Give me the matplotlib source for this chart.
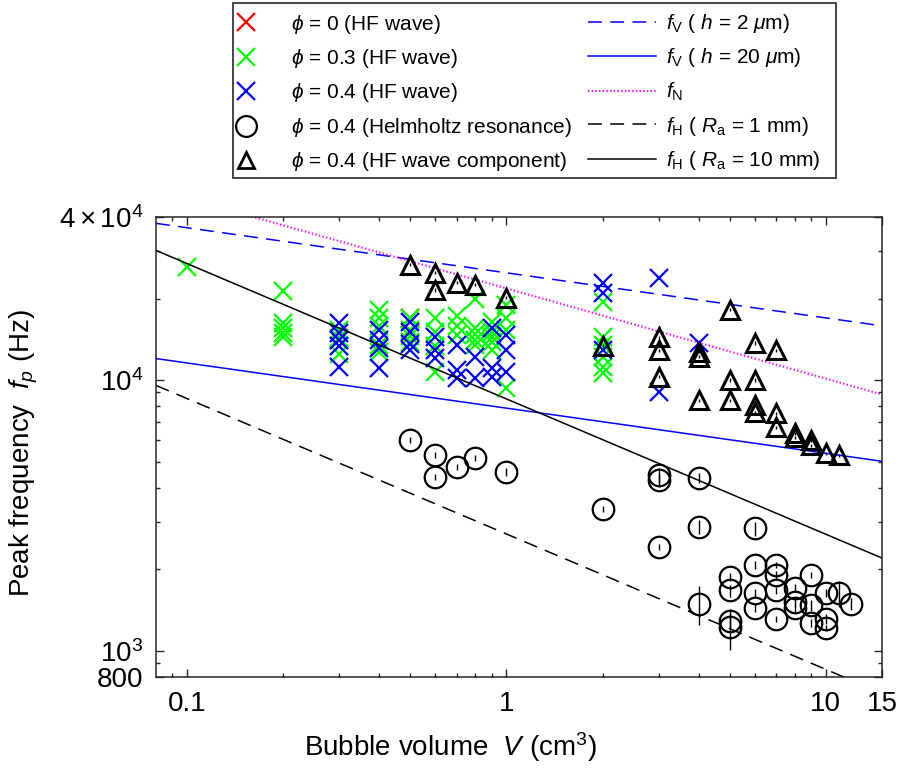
import numpy as np
import matplotlib
matplotlib.use('Agg')
import matplotlib.pyplot as plt
from matplotlib.lines import Line2D
from matplotlib.patches import Rectangle
from matplotlib.ticker import FixedLocator, NullFormatter

plt.rcParams['font.family'] = ['Liberation Sans', 'DejaVu Sans']
plt.rcParams['mathtext.fontset'] = 'custom'
plt.rcParams['mathtext.rm'] = 'Liberation Sans'
plt.rcParams['mathtext.it'] = 'Liberation Sans:italic'
plt.rcParams['mathtext.bf'] = 'Liberation Sans:bold'
plt.rcParams['mathtext.sf'] = 'Liberation Sans'
plt.rcParams['lines.scale_dashes'] = False

# ---------------- data ----------------
# phi = 0 (HF wave)
V_red = [0.3, 0.5]
f_red = [14100, 17000]

# phi = 0.3 (HF wave)
V_green = [0.1,
           0.2, 0.2, 0.2, 0.2, 0.2,
           0.3, 0.3, 0.3, 0.3,
           0.4, 0.4, 0.4, 0.4, 0.4,
           0.5, 0.5, 0.5, 0.5,
           0.6, 0.6, 0.6, 0.6,
           0.7, 0.7, 0.7,
           0.8, 0.8, 0.8, 0.8, 0.8,
           0.9, 0.9, 0.9, 0.9, 0.9,
           1, 1, 1, 1,
           2, 2, 2, 2, 2, 2]
f_green = [26200,
           21400, 16300, 15600, 14900, 14400,
           15300, 14300, 13400, 12500,
           18200, 17000, 15800, 13500, 12700,
           17000, 15300, 14600, 13800,
           17000, 15100, 13400, 10700,
           17300, 15800, 14700,
           20000, 15600, 14800, 14100, 13500,
           16400, 15100, 14400, 13800, 12900,
           19000, 17000, 15300, 9340,
           19400, 14400, 13500, 12200, 11200, 10600]

# phi = 0.4 (HF wave)
V_blue = [0.3, 0.3, 0.3, 0.3, 0.3,
          0.4, 0.4, 0.4, 0.4,
          0.5, 0.5, 0.5, 0.5,
          0.6, 0.6, 0.6,
          0.7, 0.7, 0.7,
          0.8, 0.8,
          0.9, 0.9, 0.9,
          1, 1, 1,
          2, 2, 2,
          3, 3,
          4]
f_blue = [16300, 14900, 14100, 13300, 11200,
          15300, 14100, 13100, 11100,
          16400, 15100, 13600, 12900,
          14400, 12900, 12100,
          13500, 10900, 10200,
          12200, 10200,
          15600, 11100, 10300,
          14700, 12900, 10700,
          22900, 21000, 12900,
          23900, 9030,
          13700]

# phi = 0.4 (Helmholtz resonance)
V_helm = [0.5, 0.6, 0.6, 0.7, 0.8, 1, 2,
          3, 3, 3,
          4, 4, 4,
          5, 5, 5, 5,
          6, 6, 6, 6,
          7, 7, 7, 7,
          8, 8, 8,
          9, 9, 9,
          10, 10, 10,
          11, 12]
f_helm = [6000, 5270, 4370, 4760, 5140, 4560, 3330,
          4450, 4260, 2410,
          4340, 2860, 1490,
          1880, 1670, 1290, 1220,
          2830, 2080, 1630, 1440,
          2080, 1900, 1670, 1310,
          1710, 1510, 1440,
          1900, 1470, 1270,
          1630, 1310, 1210,
          1630, 1490]
e_helm = [150, 135, 110, 120, 130, 155, 85,
          300, 220, 60,
          185, 170, 240,
          65, 85, 90, 210,
          170, 70, 55, 50,
          55, 65, 55, 35,
          60, 65, 50,
          50, 65, 45,
          55, 55, 30,
          180, 75]

# phi = 0.4 (HF wave component)
V_comp = [0.5, 0.6, 0.6, 0.7, 0.8, 1, 2,
          3, 3, 3,
          4, 4, 4,
          5, 5, 5,
          6, 6, 6, 6,
          7, 7, 7,
          8, 8,
          9, 9,
          10, 11]
f_comp = [26700, 24900, 21500, 22900, 22500, 20100, 13400,
          14400, 12900, 10300,
          12700, 12200, 8430,
          18200, 10000, 8430,
          13700, 10000, 8080, 7610,
          12900, 7550, 6700,
          6360, 6150,
          6000, 5740,
          5370, 5270]
e_comp = [350, 320, 280, 300, 290, 260, 170,
          190, 170, 130,
          165, 160, 110,
          240, 130, 110,
          180, 130, 105, 100,
          170, 100, 85,
          80, 80,
          80, 75,
          70, 70]

# model lines, values read at the axis ends
V_line = [0.08, 15]
fV_h2 = [37900, 15850]
fV_h20 = [12000, 5010]
fN_line = [50600, 8840]
fH_Ra1 = [9550, 697]
fH_Ra10 = [30100, 2200]

# ---------------- figure ----------------
W, H = 898, 774
fig = plt.figure(figsize=(W / 100, H / 100), dpi=100)
axc = '#262626'
L, R, T, B = 156, 882, 217, 677
ax = fig.add_axes([L / W, 1 - B / H, (R - L) / W, (B - T) / H])

ms_x, mew_x = 13, 1.6
ax.plot(V_red, f_red, ls='none', marker='x', color=(1, 0, 0), ms=ms_x, mew=mew_x)
ax.plot(V_green, f_green, ls='none', marker='x', color=(0, 1, 0), ms=ms_x, mew=mew_x)
ax.plot(V_blue, f_blue, ls='none', marker='x', color=(0, 0, 1), ms=ms_x, mew=mew_x)
ax.errorbar(V_helm, f_helm, yerr=e_helm, fmt='o', ms=15.5, mfc='none', mec='k',
            mew=1.6, ecolor='k', elinewidth=1.0, capsize=0)
ax.errorbar(V_comp, f_comp, yerr=e_comp, fmt='^', ms=13, mfc='none', mec='k',
            mew=2.2, ecolor='k', elinewidth=1.0, capsize=0)

lw = 1.1
ax.plot(V_line, fV_h2, color=(0, 0, 1), lw=lw, dashes=(10, 6))
ax.plot(V_line, fV_h20, color=(0, 0, 1), lw=lw, ls='-')
ax.plot(V_line, fN_line, color=(1, 0, 1), lw=1.5, ls=':')
ax.plot(V_line, fH_Ra1, color='k', lw=lw, dashes=(10, 6))
ax.plot(V_line, fH_Ra10, color='k', lw=lw, ls='-')

ax.set_xscale('log')
ax.set_yscale('log')
ax.set_xlim(0.08, 15)
ax.set_ylim(800, 4e4)

ax.xaxis.set_major_locator(FixedLocator([0.1, 1, 10, 15]))
ax.set_xticklabels(['0.1', '1', '10', '15'])
ax.xaxis.set_minor_locator(FixedLocator([0.09, 0.2, 0.3, 0.4, 0.5, 0.6, 0.7, 0.8, 0.9,
                                         2, 3, 4, 5, 6, 7, 8, 9]))
ax.xaxis.set_minor_formatter(NullFormatter())
ax.yaxis.set_major_locator(FixedLocator([800, 1e3, 1e4, 4e4]))
ax.set_yticklabels(['800', r'$10^3$', r'$10^4$', r'$4\times10^4$'])
ax.yaxis.set_minor_locator(FixedLocator([900, 2000, 3000, 4000, 5000, 6000, 7000,
                                         8000, 9000, 20000, 30000]))
ax.yaxis.set_minor_formatter(NullFormatter())

ax.tick_params(which='both', direction='in', top=True, right=True, color=axc,
               labelcolor='k', labelsize=20, width=1.0)
ax.tick_params(which='major', length=6)
ax.tick_params(which='minor', length=3)
ax.tick_params(axis='y', pad=9)
ax.tick_params(axis='x', pad=10)
for s in ax.spines.values():
    s.set_color(axc)
    s.set_linewidth(1.1)

ax.set_xlabel(r'Bubble volume  $V$ (cm$^3$)', fontsize=20)
ax.set_ylabel('Peak frequency  $f_p$ (Hz)', fontsize=20)
ax.xaxis.set_label_coords(0.405, -0.115)
ax.yaxis.set_label_coords(-0.16, 0.487)

# ---------------- legend ----------------
fs = 15
em = fs * 100 / 72
hl = [Line2D([], [], ls='none', marker='x', color=(1, 0, 0), ms=ms_x, mew=mew_x),
      Line2D([], [], ls='none', marker='x', color=(0, 1, 0), ms=ms_x, mew=mew_x),
      Line2D([], [], ls='none', marker='x', color=(0, 0, 1), ms=ms_x, mew=mew_x),
      Line2D([], [], ls='none', marker='o', mfc='none', mec='k', ms=15, mew=1.6),
      Line2D([], [], ls='none', marker='^', mfc='none', mec='k', ms=12, mew=2.0)]
ll = [r'$\phi$ = 0 (HF wave)', r'$\phi$ = 0.3 (HF wave)', r'$\phi$ = 0.4 (HF wave)',
      r'$\phi$ = 0.4 (Helmholtz resonance)', r'$\phi$ = 0.4 (HF wave component)']
hr = [Line2D([], [], color=(0, 0, 1), lw=lw, dashes=(10, 6)),
      Line2D([], [], color=(0, 0, 1), lw=lw),
      Line2D([], [], color=(1, 0, 1), lw=1.5, ls=':'),
      Line2D([], [], color='k', lw=lw, dashes=(10, 6)),
      Line2D([], [], color='k', lw=lw)]
lr = [r'$f_{\rm V}$ ( $h$ = 2 $\mu$m)', r'$f_{\rm V}$ ( $h$ = 20 $\mu$m)', r'$f_{\rm N}$',
      r'$f_{\rm H}$ ( $R_{\rm a}$ = 1 mm)', r'$f_{\rm H}$ ( $R_{\rm a}$ = 10 mm)']
leg1 = fig.legend(hl, ll, loc='upper left', bbox_to_anchor=(233.5 / W, 1 - 12.5 / H),
                  frameon=False, fontsize=fs, handlelength=1.2, handletextpad=1.56,
                  borderpad=0, borderaxespad=0, labelspacing=0.55)
leg2 = fig.legend(hr, lr, loc='upper left', bbox_to_anchor=(588 / W, 1 - 12 / H),
                  frameon=False, fontsize=fs, handlelength=68 / em, handletextpad=0.48,
                  borderpad=0, borderaxespad=0, labelspacing=0.55)
fig.patches.append(Rectangle((233 / W, 1 - 178 / H), (836 - 233) / W, 175 / H,
                             transform=fig.transFigure, fill=False, edgecolor=axc,
                             lw=1.2))

fig.savefig('out.png', dpi=100)
